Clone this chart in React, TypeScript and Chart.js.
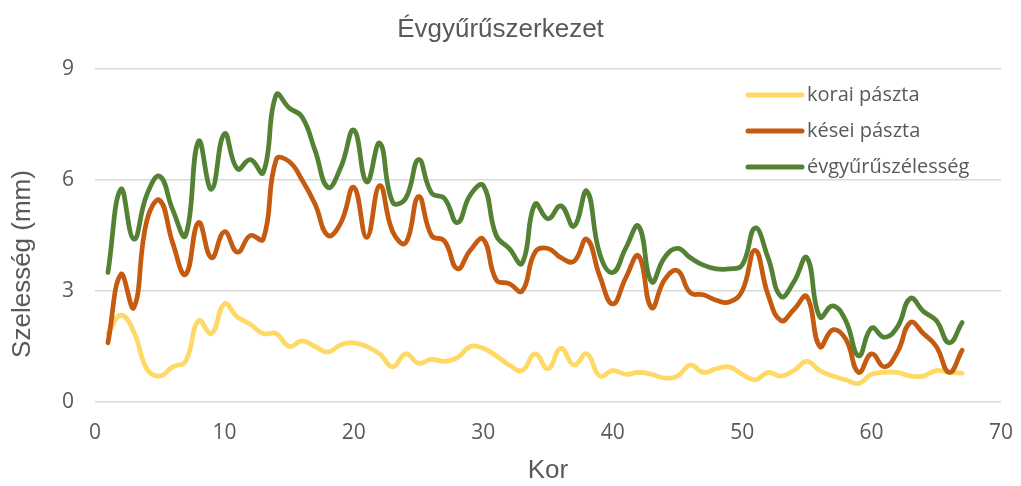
import React, { useEffect, useRef } from "react";
import { Chart, registerables } from "chart.js";

Chart.register(...registerables);

const ages: number[] = Array.from({ length: 67 }, (_, i) => i + 1);

const koraiPaszta: number[] = [
  1.85, 2.35, 1.9, 0.9, 0.7, 0.95, 1.1, 2.2, 1.85, 2.65,
  2.3, 2.1, 1.85, 1.85, 1.5, 1.65, 1.5, 1.35, 1.55, 1.6,
  1.5, 1.3, 0.95, 1.3, 1.05, 1.15, 1.1, 1.2, 1.5, 1.45,
  1.25, 1.0, 0.85, 1.3, 0.9, 1.45, 1.0, 1.3, 0.7, 0.85,
  0.75, 0.8, 0.75, 0.65, 0.7, 1.0, 0.8, 0.9, 0.95, 0.75,
  0.6, 0.8, 0.7, 0.85, 1.1, 0.85, 0.7, 0.6, 0.5, 0.75,
  0.8, 0.8, 0.7, 0.7, 0.85, 0.8, 0.78,
];

const keseiPaszta: number[] = [
  1.6, 3.45, 2.55, 4.9, 5.45, 4.3, 3.45, 4.85, 3.9, 4.6,
  4.05, 4.5, 4.4, 6.55, 6.5, 6.0, 5.35, 4.5, 4.85, 5.8,
  4.45, 5.85, 4.6, 4.3, 5.55, 4.5, 4.35, 3.6, 4.1, 4.4,
  3.3, 3.2, 3.0, 4.05, 4.15, 3.9, 3.8, 4.4, 3.4, 2.65,
  3.35, 3.95, 2.55, 3.3, 3.55, 2.95, 2.9, 2.75, 2.7, 3.0,
  4.1, 2.9, 2.2, 2.5, 2.85, 1.5, 1.95, 1.7, 0.8, 1.3,
  0.95, 1.35, 2.15, 1.85, 1.5, 0.8, 1.4,
];

const evgyuruSzelesseg: number[] = [
  3.5, 5.75, 4.4, 5.6, 6.1, 5.2, 4.5, 7.05, 5.75, 7.25,
  6.3, 6.55, 6.2, 8.3, 7.95, 7.7, 6.8, 5.8, 6.35, 7.35,
  5.95, 7.0, 5.4, 5.5, 6.55, 5.65, 5.5, 4.85, 5.6, 5.85,
  4.5, 4.15, 3.75, 5.35, 4.95, 5.3, 4.75, 5.7, 4.0, 3.5,
  4.15, 4.75, 3.25, 3.9, 4.15, 3.9, 3.7, 3.6, 3.6, 3.7,
  4.7, 3.9, 2.85, 3.25, 3.9, 2.3, 2.6, 2.2, 1.25, 2.0,
  1.75, 2.03, 2.8, 2.45, 2.2, 1.6, 2.15,
];

const seriesNames: string[] = ["korai pászta", "kései pászta", "évgyűrűszélesség"];
const seriesColors: string[] = ["#FFD966", "#C55A11", "#548235"];
const yTicks: number[] = [0, 3, 6, 9];
const xTicks: number[] = [0, 10, 20, 30, 40, 50, 60, 70];
const yTitle = "Szelesség (mm)";

const BODY = "'Open Sans', Lato, sans-serif";
const HEAD = "'Liberation Sans', Arial, sans-serif";
const TEXT = "#595959";

const overlayPlugin = {
  id: "overlay",
  afterDraw(chart: any) {
    const ctx = chart.ctx;
    const x0 = 748;
    const x1 = 802;
    const ys = [95, 131, 167];
    ctx.save();
    ctx.font = `20px ${BODY}`;
    ctx.textBaseline = "middle";
    ctx.textAlign = "left";
    seriesNames.forEach((name, i) => {
      ctx.strokeStyle = seriesColors[i];
      ctx.lineWidth = 5;
      ctx.lineCap = "round";
      ctx.beginPath();
      ctx.moveTo(x0, ys[i]);
      ctx.lineTo(x1, ys[i]);
      ctx.stroke();
      ctx.fillStyle = TEXT;
      ctx.fillText(name, x1 + 5, ys[i]);
    });
    // y axis title
    ctx.translate(23, 264);
    ctx.rotate(-Math.PI / 2);
    ctx.textAlign = "center";
    ctx.font = `26px ${HEAD}`;
    ctx.fillText(yTitle, 0, 0);
    ctx.restore();
  },
};

export default function App() {
  const ref = useRef<HTMLCanvasElement | null>(null);

  useEffect(() => {
    if (!ref.current) return;
    const mk = (vals: number[]) => ages.map((a, i) => ({ x: a, y: vals[i] }));
    const allSeries = [koraiPaszta, keseiPaszta, evgyuruSzelesseg];
    const chart = new Chart(ref.current, {
      type: "line",
      data: {
        datasets: allSeries.map((vals, i) => ({
          label: seriesNames[i],
          data: mk(vals),
          borderColor: seriesColors[i],
          backgroundColor: seriesColors[i],
          borderWidth: 4.75,
          pointRadius: 0,
          tension: 0.45,
          borderCapStyle: "round",
          borderJoinStyle: "round",
          fill: false,
          order: 2 - i,
        })),
      },
      options: {
        animation: false,
        responsive: true,
        maintainAspectRatio: false,
        layout: { padding: { left: 0, right: 20, top: 0, bottom: 0 } },
        plugins: {
          legend: { display: false },
          tooltip: { enabled: false },
          title: {
            display: true,
            text: "Évgyűrűszerkezet",
            color: TEXT,
            font: { family: HEAD, size: 26, weight: "normal" },
            padding: { top: 14, bottom: 23.8 },
          },
        },
        scales: {
          x: {
            type: "linear",
            min: 0,
            max: 70,
            afterBuildTicks: (s: any) => {
              s.ticks = xTicks.map((v) => ({ value: v }));
            },
            afterFit: (s: any) => {
              s.height = 84;
              s.paddingLeft = 0;
              s.paddingRight = 0;
            },
            grid: { display: false, drawTicks: false },
            border: { display: false },
            ticks: {
              color: TEXT,
              padding: 18,
              font: { family: BODY, size: 21 },
              maxRotation: 0,
            },
            title: {
              display: true,
              text: "Kor",
              color: TEXT,
              font: { family: HEAD, size: 26 },
              padding: { top: 0, bottom: 0 },
            },
          },
          y: {
            min: 0,
            max: 9,
            afterBuildTicks: (s: any) => {
              s.ticks = yTicks.map((v) => ({ value: v }));
            },
            afterFit: (s: any) => {
              s.width = 95;
              s.paddingTop = 0;
              s.paddingBottom = 0;
            },
            grid: { color: "#D9D9D9", lineWidth: 1.5, drawTicks: false },
            border: { display: false },
            ticks: {
              color: TEXT,
              padding: 21,
              font: { family: BODY, size: 21 },
            },
            title: { display: false },
          },
        },
      },
      plugins: [overlayPlugin],
    } as any);
    return () => chart.destroy();
  }, []);

  return (
    <div style={{ position: "fixed", left: 0, top: 0, width: 1021, height: 486, background: "#fff" }}>
      <canvas ref={ref} />
    </div>
  );
}
